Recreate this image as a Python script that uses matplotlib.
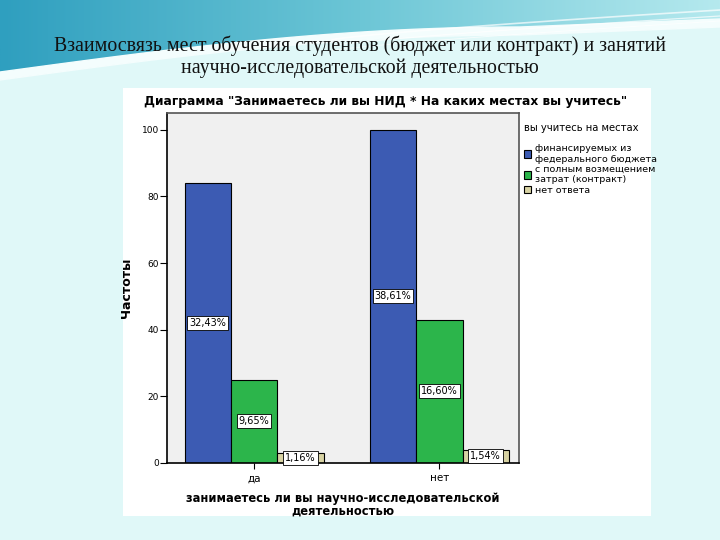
import matplotlib
matplotlib.use('Agg')
from matplotlib import pyplot as plt
import numpy as np

# данные
groups = ['да', 'нет']
series = ['финансируемых из\nфедерального бюджета',
          'с полным возмещением\nзатрат (контракт)',
          'нет ответа']
counts = {
    'финансируемых из\nфедерального бюджета': [84, 100],
    'с полным возмещением\nзатрат (контракт)': [25, 43],
    'нет ответа': [3, 4],
}
colors = ['#3c5bb3', '#2cb54b', '#d8d3a3']

total = sum(sum(v) for v in counts.values())

fig = plt.figure(figsize=(7.2, 5.4), dpi=100)
fig.patch.set_facecolor('#e0f8f8')

# фон слайда: шапка с волной
bg = fig.add_axes([0, 0, 1, 1], zorder=-10)
bg.set_xlim(0, 720)
bg.set_ylim(540, 0)
bg.axis('off')
grad = np.linspace(0, 1, 256).reshape(1, -1)
cm = matplotlib.colors.LinearSegmentedColormap.from_list('h', ['#2f9fbf', '#6cc6d6', '#b5e9ee'])
bg.imshow(grad, extent=[0, 720, 90, 0], aspect='auto', cmap=cm, zorder=0)
xs = np.linspace(0, 720, 300)
edge = 72 - 45 * np.sin(np.clip(xs / 520, 0, 1) * np.pi / 2) - 8 * np.clip((xs - 520) / 200, 0, 1)
bg.fill_between(xs, edge + 8, 95, color='#e0f8f8', zorder=1)
bg.fill_between(xs, edge, edge + 8, color='#f4fdfd', zorder=1)
# светлые полосы справа
for k, off in enumerate([0, 6, 11]):
    e2 = 40 - 30 * np.clip((xs - 330) / 390, 0, 1) ** 0.8 + off
    m = xs > 330
    bg.plot(xs[m], e2[m], color='white', lw=1.2 - 0.3 * k, alpha=0.7, zorder=2)

fig.text(0.5, 0.915, 'Взаимосвязь мест обучения студентов (бюджет или контракт) и занятий',
         ha='center', va='center', fontsize=14.3, family='Liberation Serif', color='#111111')
fig.text(0.5, 0.873, 'научно-исследовательской деятельностью',
         ha='center', va='center', fontsize=14.3, family='Liberation Serif', color='#111111')

# белая подложка диаграммы
panel = fig.add_axes([0.171, 0.044, 0.733, 0.793], zorder=-5)
panel.set_facecolor('white')
panel.set_xticks([])
panel.set_yticks([])
for s in panel.spines.values():
    s.set_visible(False)

ax = fig.add_axes([0.232, 0.1426, 0.489, 0.648])
ax.set_facecolor('#f0f0f0')
x = np.arange(len(groups))
w = 0.25
for i, name in enumerate(series):
    vals = counts[name]
    pos = x + (i - 1) * w
    ax.bar(pos, vals, width=w, color=colors[i], edgecolor='black', linewidth=0.8, label=name)
    for p, v in zip(pos, vals):
        pct = ('%.2f%%' % (100.0 * v / total)).replace('.', ',')
        ax.text(p, v / 2, pct, ha='center', va='center', fontsize=7,
                bbox=dict(boxstyle='square,pad=0.2', fc='white', ec='black', lw=0.6))

ax.set_xlim(-0.47, 1.43)
ax.set_ylim(0, 105)
ax.set_yticks([0, 20, 40, 60, 80, 100])
ax.set_xticks(x)
ax.set_xticklabels(groups, fontsize=7.5)
ax.tick_params(axis='y', labelsize=6.5, length=5, width=0.8, pad=1)
ax.tick_params(axis='x', length=4, width=0.8)
for s in ['top', 'right']:
    ax.spines[s].set_color('#555555')
    ax.spines[s].set_linewidth(1.2)
for s in ['left', 'bottom']:
    ax.spines[s].set_linewidth(1.2)
ax.set_ylabel('Частоты', fontsize=9, fontweight='bold', labelpad=6)
ax.set_xlabel('занимаетесь ли вы научно-исследовательской\nдеятельностью',
              fontsize=8.3, fontweight='bold', labelpad=6, linespacing=1.0)
ax.set_title('Диаграмма "Занимаетесь ли вы НИД * На каких местах вы учитесь"',
             fontsize=8.8, fontweight='bold', pad=6, x=0.62)

leg = ax.legend(loc='upper left', bbox_to_anchor=(1.0, 0.985), frameon=False,
                title='вы учитесь на местах', fontsize=6.8, title_fontsize=7.2,
                handlelength=0.8, handleheight=0.8, handletextpad=0.4,
                labelspacing=0.15, borderpad=0.2, borderaxespad=0.3)
leg._legend_box.align = 'left'
leg._legend_box.sep = 8

fig.savefig('out.png', dpi=100, facecolor=fig.get_facecolor())
